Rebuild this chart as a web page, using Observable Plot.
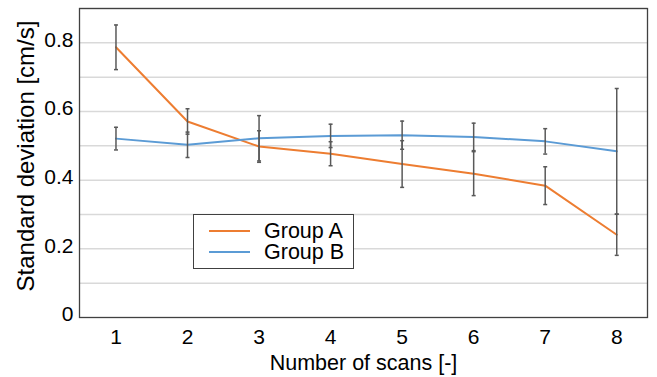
<!DOCTYPE html>
<html>
<head>
<meta charset="utf-8">
<script src="https://cdn.jsdelivr.net/npm/d3@7"></script>
<script src="https://cdn.jsdelivr.net/npm/@observablehq/plot@0.6"></script>
<style>
  html, body { margin: 0; padding: 0; background: #fff; }
  #wrap { position: relative; width: 657px; height: 377px; font-family: "Liberation Sans", Arial, sans-serif; }
  #legend { position: absolute; left: 193px; top: 214px; width: 161px; height: 55px; border: 1.3px solid #404040; background: #fff; box-sizing: border-box; }
  #legend .row { position: absolute; left: 0; height: 20px; line-height: 20px; display: flex; align-items: center; font-size: 21.5px; color: #000; white-space: nowrap; }
  #legend .sw { width: 41px; height: 0; border-top: 2px solid; margin-left: 15px; margin-right: 14px; }
  #legend .lab { display: inline-block; height: 20px; line-height: 20px; overflow: visible; }
</style>
</head>
<body>
<div id="wrap"></div>
<script>
const scans = [1, 2, 3, 4, 5, 6, 7, 8];
const groupA = [0.787, 0.571, 0.498, 0.477, 0.447, 0.419, 0.384, 0.241];
const errA   = [0.065, 0.037, 0.046, 0.035, 0.068, 0.064, 0.055, 0.060];
const groupB = [0.521, 0.503, 0.522, 0.529, 0.531, 0.526, 0.513, 0.484];
const errB   = [0.033, 0.037, 0.066, 0.034, 0.041, 0.040, 0.037, 0.183];
const seriesNames = ["Group A", "Group B"];
const seriesColors = ["#ED7D31", "#5B9BD5"];
const yTicks = [0, 0.2, 0.4, 0.6, 0.8];
const yGrid = [0.1, 0.2, 0.3, 0.4, 0.5, 0.6, 0.7, 0.8, 0.9];
const xTitle = "Number of scans [-]";
const yTitle = "Standard deviation [cm/s]";

const rows = [];
scans.forEach((s, i) => {
  rows.push({scan: s, value: groupA[i], err: errA[i], series: seriesNames[0]});
  rows.push({scan: s, value: groupB[i], err: errB[i], series: seriesNames[1]});
});

const capSymbol = {
  draw(context, size) {
    const w = 2;
    context.moveTo(-w, 0);
    context.lineTo(w, 0);
  }
};

const chart = Plot.plot({
  width: 657,
  height: 377,
  marginLeft: 79,
  marginTop: 8,
  marginRight: 10,
  marginBottom: 60,
  style: {fontFamily: "'Liberation Sans', Arial, sans-serif", fontSize: "21px", color: "#000", background: "#fff"},
  x: {domain: [0.49, 8.43], label: null},
  y: {domain: [0, 0.9], label: null},
  color: {domain: seriesNames, range: seriesColors},
  marks: [
    Plot.ruleY(yGrid, {stroke: "#d9d9d9", strokeWidth: 1.5}),
    Plot.axisY(yTicks, {tickSize: 0, tickPadding: 6, dy: -3, tickFormat: d => d === 0 ? "0" : d3.format(".1f")(d), fontSize: 21}),
    Plot.axisX(scans, {tickSize: 0, tickPadding: 12, tickFormat: d => String(d), fontSize: 21}),
    Plot.lineY(rows, {x: "scan", y: "value", stroke: "series", z: "series", strokeWidth: 2}),
    Plot.ruleX(rows, {x: "scan", y1: d => d.value - d.err, y2: d => d.value + d.err, stroke: "#595959", strokeWidth: 1.5}),
    Plot.dot(rows, {x: "scan", y: d => d.value - d.err, symbol: capSymbol, stroke: "#595959", fill: "none", strokeWidth: 1.5}),
    Plot.dot(rows, {x: "scan", y: d => d.value + d.err, symbol: capSymbol, stroke: "#595959", fill: "none", strokeWidth: 1.5}),
    Plot.frame({stroke: "#404040", strokeWidth: 1.3}),
    Plot.text([xTitle], {frameAnchor: "bottom", dy: 52, fontSize: 21.5, fill: "#000"}),
    Plot.text([yTitle], {frameAnchor: "left", textAnchor: "middle", dx: -53, dy: -7, rotate: -90, fontSize: 24, fill: "#000"})
  ]
});

const wrap = document.getElementById("wrap");
wrap.appendChild(chart);

const legend = document.createElement("div");
legend.id = "legend";
seriesNames.forEach((name, i) => {
  const row = document.createElement("div");
  row.className = "row";
  row.style.top = (6 + i * 21) + "px";
  const sw = document.createElement("span");
  sw.className = "sw";
  sw.style.borderTopColor = seriesColors[i];
  const label = document.createElement("span");
  label.className = "lab";
  label.textContent = name;
  row.appendChild(sw);
  row.appendChild(label);
  legend.appendChild(row);
});
wrap.appendChild(legend);
</script>
</body>
</html>
